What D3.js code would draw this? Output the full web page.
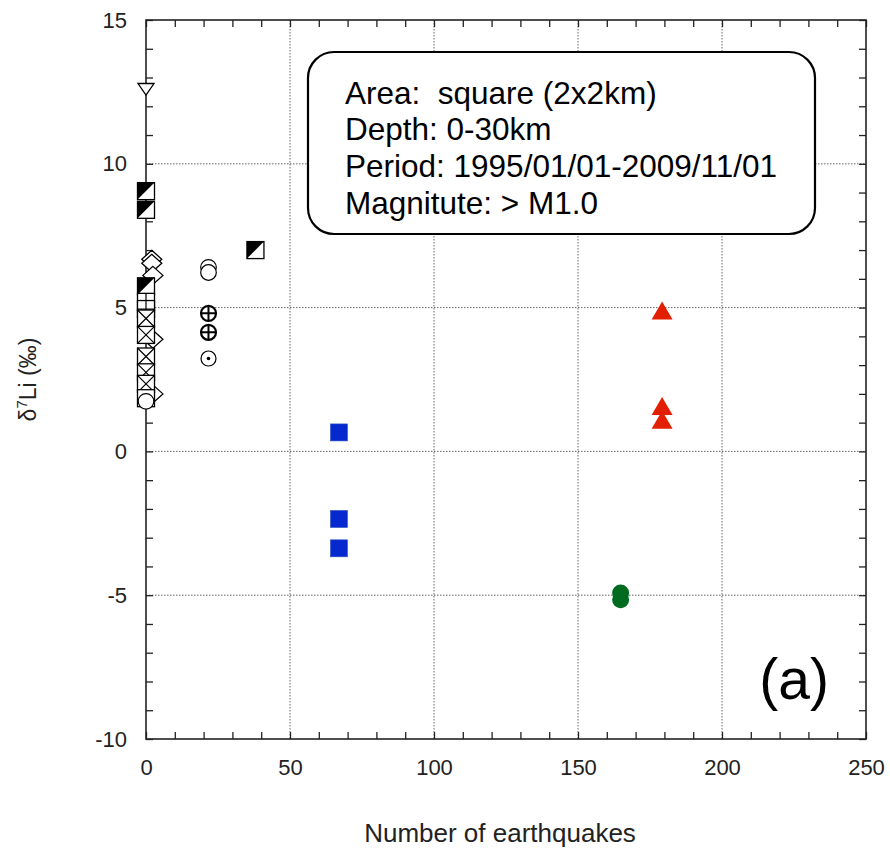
<!DOCTYPE html>
<html><head><meta charset="utf-8">
<script src="https://cdn.jsdelivr.net/npm/d3@7"></script>
<style>
html,body{margin:0;padding:0;background:#fff;}
svg{display:block;font-family:"Liberation Sans",Arial,Helvetica,sans-serif;}
</style></head>
<body><svg id="chart" width="890" height="855"></svg>
<script>
// ---- data ----
const xDomain = [0, 250];
const yDomain = [-10, 15];
const xMajorTicks = [0, 50, 100, 150, 200, 250];
const yMajorTicks = [-10, -5, 0, 5, 10, 15];
const xMinorTicks = d3.range(0, 251, 10);
const yMinorTicks = d3.range(-10, 16, 1);

const openDownTri = [[0, 12.6]];
const halfSquares = [[0, 9.05], [0, 8.4], [38, 7.0]];
const diamonds = [[2.0, 6.68], [2.0, 6.54], [2.4, 6.12], [2.4, 3.9], [2.4, 2.0]];
const halfSquares2 = [[0, 5.74]];
const plusSquares = [[0, 5.2], [0, 4.95]];
const crossSquares = [[0, 4.62], [0, 4.05], [0, 3.3], [0, 2.75], [0, 2.35]];
const openSquares = [[0, 1.85]];
const openCircles = [[0, 1.74], [21.7, 6.4], [21.7, 6.22]];
const plusCircles = [[21.7, 4.8], [21.7, 4.14]];
const dotCircles = [[21.7, 3.23]];
const blueSquares = [[67, 0.66], [67, -2.35], [67, -3.37]];
const redTriangles = [[179.2, 4.88], [179.2, 1.56], [179.2, 1.08]];
const greenCircles = [[164.8, -4.92], [164.8, -5.16]];

const infoLines = ["Area:  square (2x2km)", "Depth: 0-30km", "Period: 1995/01/01-2009/11/01", "Magnitute: > M1.0"];

// ---- layout ----
const svg = d3.select("#chart");
const L = 146, R = 866, T = 20, B = 739;
const x = d3.scaleLinear().domain(xDomain).range([L, R]);
const y = d3.scaleLinear().domain(yDomain).range([B, T]);
const ink = "#222";

// grid
const grid = svg.append("g");
grid.selectAll("line.gx").data(xMajorTicks.filter(v => v > 0 && v < 250)).join("line")
  .attr("x1", d => x(d)).attr("x2", d => x(d)).attr("y1", T).attr("y2", B)
  .attr("stroke", "#666").attr("stroke-width", 1).attr("stroke-dasharray", "1.5,1.5");
grid.selectAll("line.gy").data(yMajorTicks.filter(v => v > -10 && v < 15)).join("line")
  .attr("y1", d => y(d)).attr("y2", d => y(d)).attr("x1", L).attr("x2", R)
  .attr("stroke", "#666").attr("stroke-width", 1).attr("stroke-dasharray", "1.5,1.5");

// axes
const tickLen = 7;
function styleAxis(g) {
  g.select(".domain").remove();
  g.selectAll(".tick line").attr("stroke", ink).attr("stroke-width", 1.3);
  g.selectAll(".tick text").attr("fill", ink).attr("font-size", 22)
    .attr("font-family", "Liberation Sans, Arial, sans-serif");
}
const fmtX = d => (d % 50 === 0 ? d : "");
const fmtY = d => (d % 5 === 0 ? d : "");
svg.append("g").attr("transform", `translate(0,${B})`)
  .call(d3.axisBottom(x).tickValues(xMinorTicks).tickSize(-tickLen).tickPadding(20).tickFormat(fmtX))
  .call(styleAxis);
svg.append("g").attr("transform", `translate(0,${T})`)
  .call(d3.axisTop(x).tickValues(xMinorTicks).tickSize(-tickLen).tickFormat(""))
  .call(styleAxis);
svg.append("g").attr("transform", `translate(${L},0)`)
  .call(d3.axisLeft(y).tickValues(yMinorTicks).tickSize(-tickLen).tickPadding(19).tickFormat(fmtY))
  .call(styleAxis);
svg.append("g").attr("transform", `translate(${R},0)`)
  .call(d3.axisRight(y).tickValues(yMinorTicks).tickSize(-tickLen).tickFormat(""))
  .call(styleAxis);

svg.append("rect").attr("x", L).attr("y", T).attr("width", R - L).attr("height", B - T)
  .attr("fill", "none").attr("stroke", ink).attr("stroke-width", 1.6);

// info box
const box = svg.append("g");
box.append("rect").attr("x", 308).attr("y", 52).attr("width", 507).attr("height", 182)
  .attr("rx", 26).attr("ry", 26).attr("fill", "#fff").attr("stroke", "#000").attr("stroke-width", 2.2);
box.selectAll("text").data(infoLines).join("text")
  .attr("x", 345).attr("y", (d, i) => 103.5 + i * 36.7)
  .attr("font-size", 31.5).attr("fill", "#000").style("white-space", "pre")
  .text(d => d);

// ---- markers ----
const M = svg.append("g");
const px = d => x(d[0]), py = d => y(d[1]);
const sq = 17, h = sq / 2;

// open down triangle
M.selectAll(null).data(openDownTri).join("path")
  .attr("d", d => `M${px(d) - 8},${py(d) - 5.5}L${px(d) + 8},${py(d) - 5.5}L${px(d)},${py(d) + 6}Z`)
  .attr("fill", "#fff").attr("stroke", "#000").attr("stroke-width", 1.3);

function halfSq(data) {
  const g = M.selectAll(null).data(data).join("g");
  g.append("rect").attr("x", d => px(d) - h).attr("y", d => py(d) - h).attr("width", sq).attr("height", sq)
    .attr("fill", "#fff").attr("stroke", "#000").attr("stroke-width", 1.3);
  g.append("path").attr("d", d => `M${px(d) - h},${py(d) - h}L${px(d) + h},${py(d) - h}L${px(d) - h},${py(d) + h}Z`)
    .attr("fill", "#000");
}
halfSq(halfSquares);

// diamonds
M.selectAll(null).data(diamonds).join("path")
  .attr("d", d => `M${px(d)},${py(d) - 9}L${px(d) + 10},${py(d)}L${px(d)},${py(d) + 9}L${px(d) - 10},${py(d)}Z`)
  .attr("fill", "#fff").attr("stroke", "#000").attr("stroke-width", 1.3);

halfSq(halfSquares2);

// plus squares
{
  const g = M.selectAll(null).data(plusSquares).join("g");
  g.append("rect").attr("x", d => px(d) - h).attr("y", d => py(d) - h).attr("width", sq).attr("height", sq)
    .attr("fill", "#fff").attr("stroke", "#000").attr("stroke-width", 1.3);
  g.append("path").attr("d", d => `M${px(d)},${py(d) - h}V${py(d) + h}M${px(d) - h},${py(d)}H${px(d) + h}`)
    .attr("stroke", "#000").attr("stroke-width", 1.2);
}
// cross squares
{
  const g = M.selectAll(null).data(crossSquares).join("g");
  g.append("rect").attr("x", d => px(d) - h).attr("y", d => py(d) - h).attr("width", sq).attr("height", sq)
    .attr("fill", "#fff").attr("stroke", "#000").attr("stroke-width", 1.3);
  g.append("path").attr("d", d => `M${px(d) - h},${py(d) - h}L${px(d) + h},${py(d) + h}M${px(d) + h},${py(d) - h}L${px(d) - h},${py(d) + h}`)
    .attr("stroke", "#000").attr("stroke-width", 1.2);
}
// open squares
M.selectAll(null).data(openSquares).join("rect")
  .attr("x", d => px(d) - h).attr("y", d => py(d) - h).attr("width", sq).attr("height", sq)
  .attr("fill", "#fff").attr("stroke", "#000").attr("stroke-width", 1.3);
// open circles
M.selectAll(null).data(openCircles).join("circle")
  .attr("cx", px).attr("cy", py).attr("r", 7.8)
  .attr("fill", "#fff").attr("stroke", "#000").attr("stroke-width", 1.2);
// plus circles
{
  const g = M.selectAll(null).data(plusCircles).join("g");
  g.append("circle").attr("cx", px).attr("cy", py).attr("r", 7.5)
    .attr("fill", "#fff").attr("stroke", "#000").attr("stroke-width", 2.2);
  g.append("path").attr("d", d => `M${px(d)},${py(d) - 7.5}V${py(d) + 7.5}M${px(d) - 7.5},${py(d)}H${px(d) + 7.5}`)
    .attr("stroke", "#000").attr("stroke-width", 2);
}
// dot circles
{
  const g = M.selectAll(null).data(dotCircles).join("g");
  g.append("circle").attr("cx", px).attr("cy", py).attr("r", 7.5)
    .attr("fill", "#fff").attr("stroke", "#000").attr("stroke-width", 1.2);
  g.append("circle").attr("cx", px).attr("cy", py).attr("r", 1.8).attr("fill", "#000");
}
// blue squares
M.selectAll(null).data(blueSquares).join("rect")
  .attr("x", d => px(d) - h).attr("y", d => py(d) - h).attr("width", sq).attr("height", sq)
  .attr("fill", "#0628cf").attr("stroke", "#3050c0").attr("stroke-width", 0.6);
// red triangles
M.selectAll(null).data(redTriangles).join("path")
  .attr("d", d => `M${px(d)},${py(d) - 9.5}L${px(d) + 10.5},${py(d) + 8.5}L${px(d) - 10.5},${py(d) + 8.5}Z`)
  .attr("fill", "#e21f00");
// green circles
M.selectAll(null).data(greenCircles).join("circle")
  .attr("cx", px).attr("cy", py).attr("r", 8.5).attr("fill", "#006b1f");

// titles
svg.append("text").attr("x", (L + R) / 2 - 6).attr("y", 842).attr("text-anchor", "middle")
  .attr("font-size", 26).attr("fill", ink).text("Number of earthquakes");
const yt = svg.append("text").attr("transform", `translate(36,${(T + B) / 2}) rotate(-90)`)
  .attr("text-anchor", "middle").attr("font-size", 23).attr("fill", ink);
yt.append("tspan").text("δ");
yt.append("tspan").attr("dy", -9).attr("font-size", 15).text("7");
yt.append("tspan").attr("dy", 9).text("Li (‰)");

svg.append("text").attr("x", 829).attr("y", 699).attr("text-anchor", "end")
  .attr("font-size", 57).attr("fill", "#000").text("(a)");
</script></body></html>
